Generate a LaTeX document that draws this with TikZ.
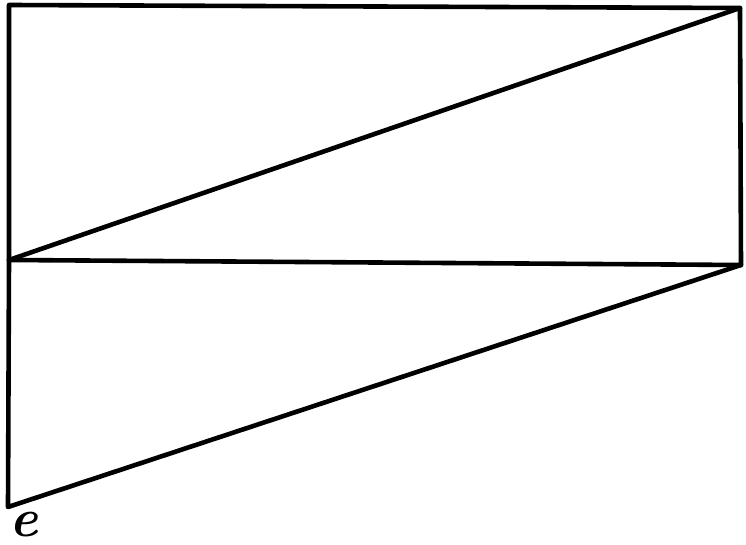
\documentclass[tikz,border=0pt]{standalone}
\usepackage{tikz}
\usetikzlibrary{positioning}
\begin{document}
\begin{tikzpicture}[x=0.5pt,y=-0.5pt,
            corner/.style = {coordinate},
            edge/.style={draw=black,line width=2.3pt,line join=round,line cap=round},
            label/.style={font=\fontsize{27}{27}\selectfont\bfseries\itshape, inner sep=0pt}
        ]
            \useasboundingbox (0,0) rectangle (746,545);
            \node [corner] (TL) at (9,5) {};
            \node [corner] (TR) at (740,8) {};
            \node [corner] (ML) at (9,260) {};
            \node [corner] (MR) at (741,265) {};
            \node [corner] (BL) at (8,507) {};
            \node [label] (e) at (24,525) {e};
        
            % Draw edges
            \draw [edge] (ML) -- (TL) -- (TR) -- (MR) -- (ML);
            \draw [edge] (ML) -- (TR);
            \draw [edge] (ML) -- (BL) -- (MR);
        \end{tikzpicture}
\end{document}
